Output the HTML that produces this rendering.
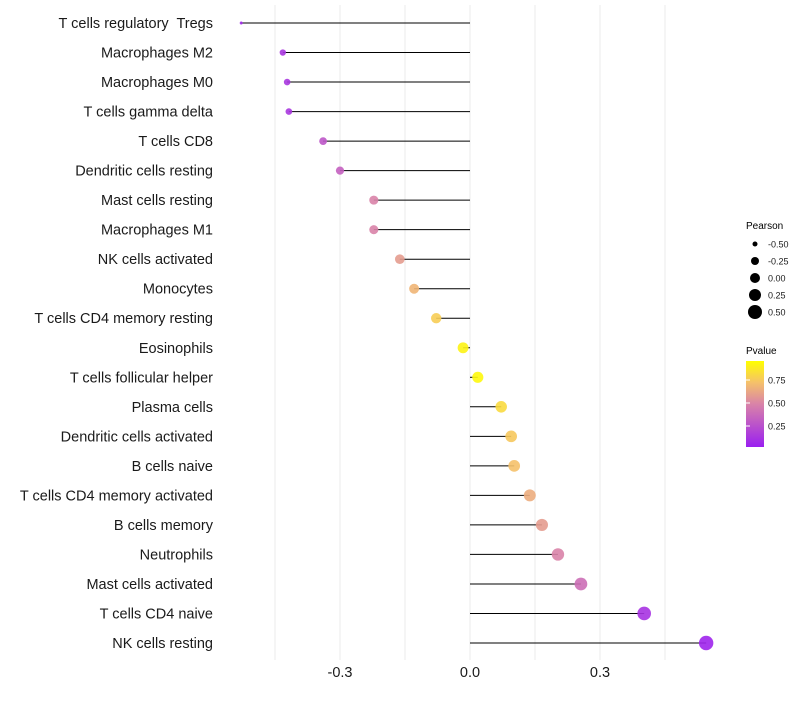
<!DOCTYPE html>
<html><head><meta charset="utf-8"><style>
body{margin:0;background:#fff;font-family:"Liberation Sans",Arial,sans-serif;}
svg text{font-family:"Liberation Sans",Arial,sans-serif;white-space:pre;}
</style></head><body>
<svg id="chart" width="800" height="700" xmlns="http://www.w3.org/2000/svg">
<g id="grid"></g>
<g id="ylabels"></g>
<g id="marks"></g>
<g id="xticks"></g>
<g id="legend">
 <text x="746" y="229" font-size="10">Pearson</text>
 <g id="sizeLeg"></g>
 <text x="746" y="354" font-size="10">Pvalue</text>
 <defs><linearGradient id="pg" x1="0" y1="1" x2="0" y2="0">
  <stop offset="0" stop-color="#9a1ff0"/><stop offset="0.5" stop-color="#d983a8"/>
  <stop offset="0.75" stop-color="#f5c16a"/><stop offset="1" stop-color="#ffff00"/></linearGradient></defs>
 <rect x="746" y="361" width="18" height="86" fill="url(#pg)"/>
 <g id="colLeg"></g>
</g>
</svg>
<script>
const categories=["T cells regulatory  Tregs","Macrophages M2","Macrophages M0","T cells gamma delta","T cells CD8","Dendritic cells resting","Mast cells resting","Macrophages M1","NK cells activated","Monocytes","T cells CD4 memory resting","Eosinophils","T cells follicular helper","Plasma cells","Dendritic cells activated","B cells naive","T cells CD4 memory activated","B cells memory","Neutrophils","Mast cells activated","T cells CD4 naive","NK cells resting"];
const pearson=[-0.528,-0.432,-0.422,-0.418,-0.339,-0.300,-0.222,-0.222,-0.162,-0.129,-0.078,-0.016,0.018,0.072,0.095,0.102,0.138,0.166,0.203,0.256,0.402,0.545];
const pvalues=[0.05,0.12,0.12,0.12,0.28,0.33,0.5,0.5,0.6,0.7,0.8,0.95,0.97,0.85,0.78,0.75,0.67,0.6,0.5,0.4,0.1,0.03];
const xTicks=[-0.3,0.0,0.3];
const gridVals=[-0.45,-0.3,-0.15,0,0.15,0.3,0.45];
const sizeLegVals=[-0.5,-0.25,0,0.25,0.5];
const pLegVals=[0.25,0.5,0.75];
const NS="http://www.w3.org/2000/svg";
const X=v=>470+v*433.3;
const Y=i=>23+i*(620/(categories.length-1));
function el(t,a,p){const e=document.createElementNS(NS,t);for(const k in a)e.setAttribute(k,a[k]);p.appendChild(e);return e;}
const stops=[[0,[154,31,240]],[0.5,[217,131,168]],[0.75,[245,193,106]],[1,[255,255,0]]];
function col(p){for(let i=1;i<stops.length;i++){if(p<=stops[i][0]){const a=stops[i-1],b=stops[i],t=(p-a[0])/(b[0]-a[0]);return "rgb("+a[1].map((c,j)=>Math.round(c+(b[1][j]-c)*t)).join(",")+")";}}return "rgb(255,255,0)";}
const mn=Math.min(...pearson),mx=Math.max(...pearson);
const R=v=>{const t=Math.max(0,(v-mn)/(mx-mn));return 1.5+5.7*Math.sqrt(t);};
const g=document.getElementById('grid');
gridVals.forEach(v=>{const l=el('line',{x1:X(v),x2:X(v),y1:5,y2:660,stroke:'#ebebeb','stroke-width':1},g);

});
const yl=document.getElementById('ylabels'),mk=document.getElementById('marks');
categories.forEach((c,i)=>{
 const t=el('text',{x:213,y:Y(i)+5,'text-anchor':'end','font-size':14.5,fill:'#1a1a1a'},yl);t.textContent=c;
 
 
 const l=el('line',{x1:X(0),x2:X(pearson[i]),y1:Y(i),y2:Y(i),stroke:'#000','stroke-width':1},mk);
 
 
 const d=el('circle',{cx:X(pearson[i]),cy:Y(i),r:R(pearson[i]),fill:col(pvalues[i]),'fill-opacity':0.9},mk);
 
 
});
const xt=document.getElementById('xticks');
xTicks.forEach(v=>{const t=el('text',{x:X(v),y:677,'text-anchor':'middle','font-size':14.5,fill:'#1a1a1a'},xt);t.textContent=v.toFixed(1);
 
 });
const sl=document.getElementById('sizeLeg');
sizeLegVals.forEach((v,i)=>{const y=244+i*17;
 const c=el('circle',{cx:755,cy:y,r:[2.5,4,5,6,7][i],fill:'#000'},sl);
 
 
 const t=el('text',{x:768,y:y+3.5,'font-size':9,fill:'#1a1a1a'},sl);t.textContent=v.toFixed(2);
 
 });
const cl=document.getElementById('colLeg');
pLegVals.forEach(v=>{const y=449-v*92;
 const l=el('line',{x1:746,x2:750,y1:y,y2:y,stroke:'#fff','stroke-width':1},cl);
 
 
 const t=el('text',{x:768,y:y+3.5,'font-size':9,fill:'#1a1a1a'},cl);t.textContent=v.toFixed(2);
 
 });
</script>
</body></html>
